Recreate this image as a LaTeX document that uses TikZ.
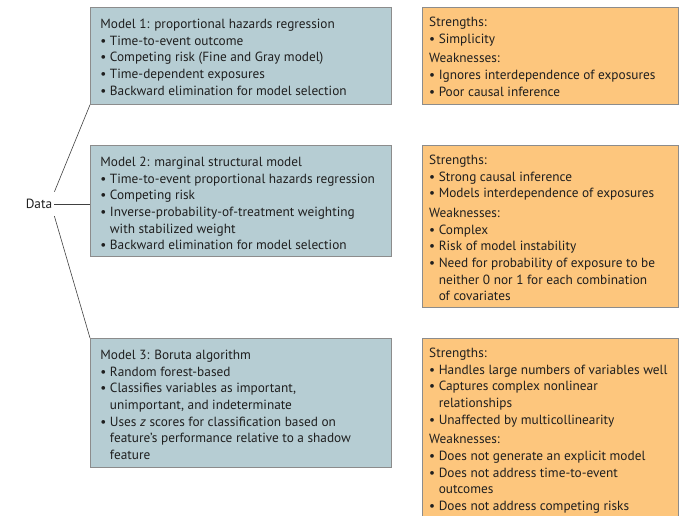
\documentclass[tikz,border=0pt]{standalone}
\usepackage{fontspec}
\setmainfont{PT Sans}
\usetikzlibrary{positioning}
\definecolor{modelblue}{RGB}{182,205,211}
\definecolor{noteorange}{RGB}{253,198,125}
\definecolor{boxline}{RGB}{140,140,140}
\newcommand*{\bl}{\textbullet\ }
\newcommand*{\hang}{\phantom{\textbullet\ }}
\newcommand*{\panelbox}[3]{\parbox[c][#2][t]{#1}{\strut #3}}

\tikzset{
  panel/.style = {draw = boxline, line width = 0.8pt, anchor = north west,
                  font = \fontsize{13.3}{16.7}\selectfont, text = black!88},
  model/.style = {panel, fill = modelblue, inner xsep = 10pt, inner ysep = 9.3pt},
  note/.style  = {panel, fill = noteorange, inner xsep = 7pt, inner ysep = 7.3pt},
  link/.style  = {draw = black!75, line width = 0.6pt},
}

\begin{document}
\begin{tikzpicture}[x = 1pt, y = -1pt]
    \useasboundingbox[clip] (0,0) rectangle (682,516);

    % models
    \node (m1) [model] at (90,7) {\panelbox{281pt}{78.4pt}{Model 1: proportional hazards regression\\
        \bl Time-to-event outcome\\
        \bl Competing risk (Fine and Gray model)\\
        \bl Time-dependent exposures\\
        \bl Backward elimination for model selection}};

    \node (m2) [model] at (90,145) {\panelbox{281pt}{92.4pt}{Model 2: marginal structural model\\
        \bl Time-to-event proportional hazards regression\\
        \bl Competing risk\\
        \bl Inverse-probability-of-treatment weighting\\
        \hang with stabilized weight\\
        \bl Backward elimination for model selection}};

    \node (m3) [model] at (90,338) {\panelbox{281pt}{110.4pt}{Model 3: Boruta algorithm\\
        \bl Random forest-based\\
        \bl Classifies variables as important,\\
        \hang unimportant, and indeterminate\\
        \bl Uses \textit{z} scores for classification based on\\
        \hang feature's performance relative to a shadow\\
        \hang feature}};

    % strengths and weaknesses
    \node (n1) [note, right = 30pt of m1.north east, anchor = north west] {\panelbox{242pt}{82.4pt}{Strengths:\\
        \bl Simplicity\\[3pt]
        Weaknesses:\\
        \bl Ignores interdependence of exposures\\
        \bl Poor causal inference}};

    \node (n2) [note, right = 30pt of m2.north east, anchor = north west] {\panelbox{242pt}{147.4pt}{Strengths:\\
        \bl Strong causal inference\\
        \bl Models interdependence of exposures\\[3pt]
        Weaknesses:\\
        \bl Complex\\
        \bl Risk of model instability\\
        \bl Need for probability of exposure to be\\
        \hang neither 0 nor 1 for each combination\\
        \hang of covariates}};

    \node (n3) [note, right = 30pt of m3.north east, anchor = north west] {\panelbox{242pt}{200pt}{Strengths:\\
        \bl Handles large numbers of variables well\\
        \bl Captures complex nonlinear\\
        \hang relationships\\
        \bl Unaffected by multicollinearity\\[3pt]
        Weaknesses:\\
        \bl Does not generate an explicit model\\
        \bl Does not address time-to-event\\
        \hang outcomes\\
        \bl Does not address competing risks}};

    % data
    \node (data) [font = \fontsize{13.3}{16.7}\selectfont, text = black!88,
                  minimum height = 24pt, inner xsep = 2pt] at (39,204) {Data};

    \draw[link] (data.north east) -- (m1.south west);
    \draw[link] (data.east) -- (data.east -| m2.west);
    \draw[link] (data.south east) -- (m3.north west);

\end{tikzpicture}
\end{document}
